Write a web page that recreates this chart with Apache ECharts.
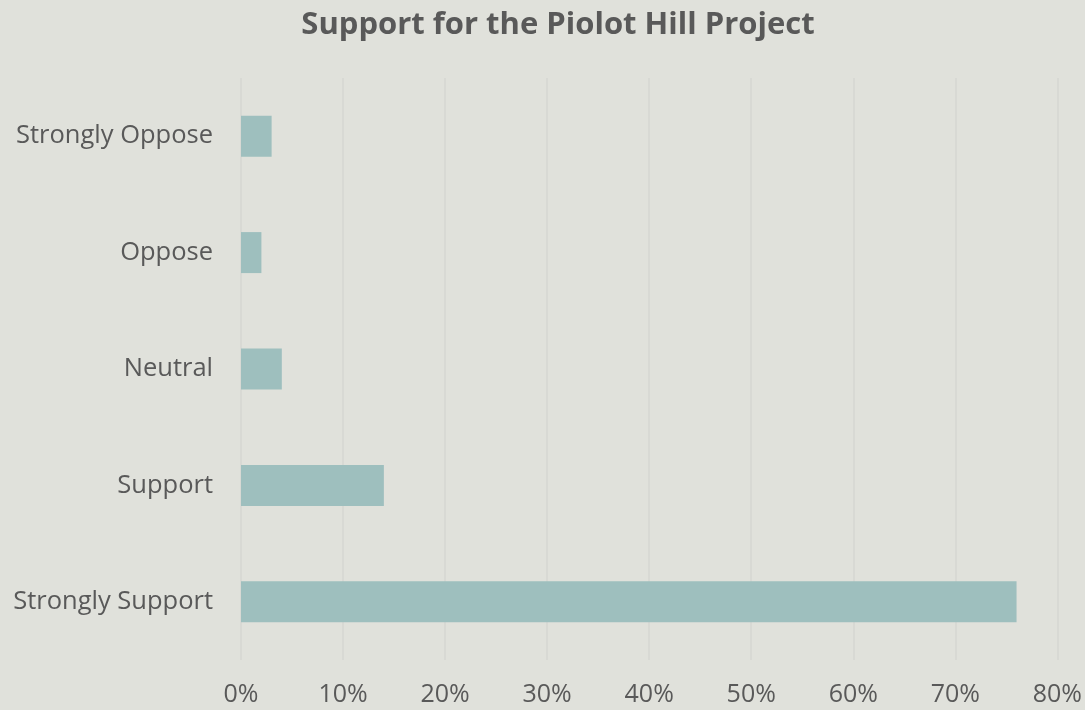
<!DOCTYPE html>
<html>
<head>
<meta charset="utf-8">
<script src="https://cdn.jsdelivr.net/npm/echarts@6/dist/echarts.min.js"></script>
<style>
html,body{margin:0;padding:0;background:#e0e1db;}
#c{width:1085px;height:710px;}
</style>
</head>
<body>
<div id="c"></div>
<script>
var categories = ['Strongly Support', 'Support', 'Neutral', 'Oppose', 'Strongly Oppose'];
var values = [76, 14, 4, 2, 3];
var xTicks = [0, 10, 20, 30, 40, 50, 60, 70, 80];

var chart = echarts.init(document.getElementById('c'));
chart.setOption({
  backgroundColor: '#e0e1db',
  textStyle: { fontFamily: 'Open Sans' },
  title: {
    text: 'Support for the Piolot Hill Project',
    left: 553, top: 5, textAlign: 'center',
    textStyle: { fontFamily: 'Open Sans', fontSize: 31, fontWeight: 'bold', color: '#595959' }
  },
  grid: { left: 241, right: 26, top: 78, bottom: 50, containLabel: false },
  xAxis: {
    type: 'value', min: 0, max: 80, interval: 10,
    axisLine: { show: false }, axisTick: { show: false },
    splitLine: { show: true, lineStyle: { color: '#d6d6d2', width: 1.5 } },
    axisLabel: { formatter: function (v) { return v + '%'; }, fontSize: 25, color: '#595959', margin: 22, fontFamily: 'Open Sans' }
  },
  yAxis: {
    type: 'category', data: categories,
    axisLine: { show: false }, axisTick: { show: false },
    axisLabel: { fontSize: 25.5, color: '#595959', margin: 28, fontFamily: 'Open Sans' }
  },
  series: [{
    type: 'bar', data: values, barWidth: 41,
    itemStyle: { color: '#9ebfbe' },
    silent: true
  }]
});
</script>
</body>
</html>
